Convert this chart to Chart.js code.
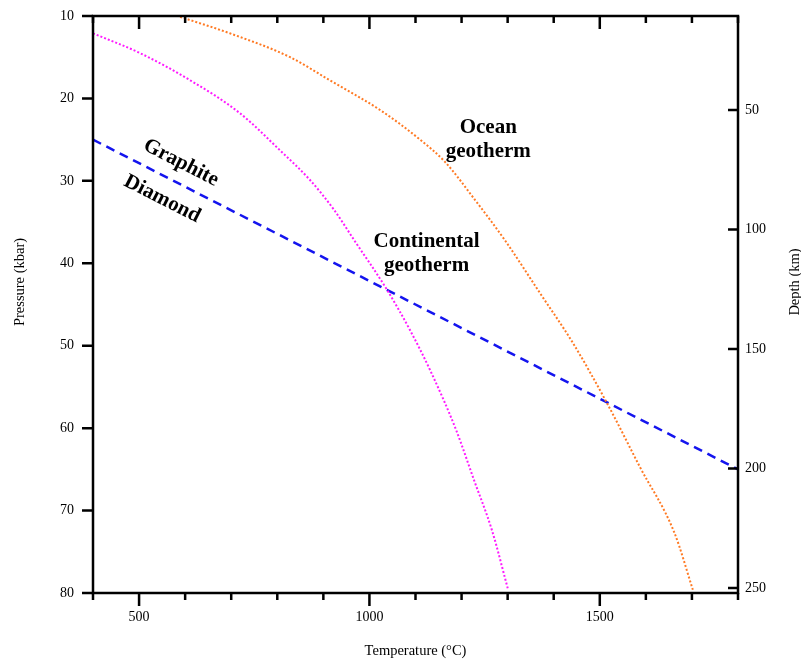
<!DOCTYPE html>
<html>
<head>
<meta charset="utf-8">
<script src="https://cdn.jsdelivr.net/npm/chart.js@4.4.1/dist/chart.umd.min.js"></script>
<style>
  html, body { margin: 0; padding: 0; background: #fff; }
  #chart { display: block; }
</style>
</head>
<body>
<canvas id="chart" width="801" height="662"></canvas>
<script>
"use strict";

// Ocean geotherm: temperature (°C) and pressure (kbar)
const oceanTemp = [589, 697, 828, 914, 1023, 1110, 1164, 1229, 1294, 1370, 1442, 1516, 1587, 1662, 1702];
const oceanPres = [10.1, 12.1, 15.0, 17.8, 21.4, 25.0, 27.7, 32.3, 37.2, 43.6, 49.7, 57.0, 64.7, 72.7, 79.6];

// Continental geotherm
const contTemp = [400, 502, 611, 719, 806, 871, 923, 967, 1038, 1088, 1132, 1188, 1227, 1266, 1301];
const contPres = [12.1, 14.5, 17.8, 21.8, 26.3, 29.9, 33.5, 37.2, 43.2, 48.1, 53.0, 60.2, 66.3, 72.4, 79.6];

// Graphite / diamond boundary
const gdTemp = [400, 1800];
const gdPres = [25, 65];

// axes
const TEMP_MIN = 400, TEMP_MAX = 1800, TEMP_MINOR_STEP = 100;
const TEMP_TICKS = [500, 1000, 1500];
const PRESSURE_TICKS = [10, 20, 30, 40, 50, 60, 70, 80];
const DEPTH_MIN = 10.7, DEPTH_MAX = 252.1;
const DEPTH_TICKS = [50, 100, 150, 200, 250];

const zip = (xs, ys) => xs.map((v, i) => ({ x: v, y: ys[i] }));

const notes = [
    { text: 'Ocean', t: 1258, p: 24.2 },
    { text: 'geotherm', t: 1258, p: 27.1 },
    { text: 'Continental', t: 1124, p: 38.0 },
    { text: 'geotherm', t: 1124, p: 40.9 }
];
const phaseNotes = [
    { text: 'Graphite', t: 591, p: 27.8 },
    { text: 'Diamond', t: 550, p: 32.2 }
];

const SERIF = '"Liberation Serif", "Times New Roman", serif';

// frame, tick marks, titles and labels
const decorations = {
    id: 'decorations',
    afterDatasetsDraw(chart) {
        const { ctx, chartArea: a, scales } = chart;
        const x = scales.x, y = scales.y, d = scales.depth;
        ctx.save();
        ctx.strokeStyle = '#000';
        ctx.lineWidth = 2.5;
        ctx.strokeRect(a.left, a.top, a.right - a.left, a.bottom - a.top);

        ctx.beginPath();
        for (let t = TEMP_MIN; t <= TEMP_MAX; t += TEMP_MINOR_STEP) {
            const px = x.getPixelForValue(t);
            const len = TEMP_TICKS.includes(t) ? 13 : 7;
            ctx.moveTo(px, a.bottom); ctx.lineTo(px, a.bottom + len);
            ctx.moveTo(px, a.top); ctx.lineTo(px, a.top + len);
        }
        PRESSURE_TICKS.forEach(p => {
            const py = y.getPixelForValue(p);
            ctx.moveTo(a.left - 11, py); ctx.lineTo(a.left, py);
        });
        DEPTH_TICKS.forEach(k => {
            const py = d.getPixelForValue(k);
            ctx.moveTo(a.right - 10, py); ctx.lineTo(a.right, py);
        });
        ctx.stroke();

        // axis titles
        ctx.fillStyle = '#000';
        ctx.font = '14.5px ' + SERIF;
        ctx.textAlign = 'center';
        ctx.textBaseline = 'alphabetic';
        ctx.fillText('Temperature (°C)', (a.left + a.right) / 2, a.bottom + 62);
        ctx.textBaseline = 'middle';
        [[20, 'Pressure (kbar)'], [795, 'Depth (km)']].forEach(([cx, txt]) => {
            ctx.save();
            ctx.translate(cx, 282);
            ctx.rotate(-Math.PI / 2);
            ctx.fillText(txt, 0, 0);
            ctx.restore();
        });

        // curve labels
        ctx.font = 'bold 21px ' + SERIF;
        ctx.textBaseline = 'alphabetic';
        notes.forEach(n => ctx.fillText(n.text, x.getPixelForValue(n.t), y.getPixelForValue(n.p)));

        const ang = Math.atan2(y.getPixelForValue(gdPres[1]) - y.getPixelForValue(gdPres[0]),
                               x.getPixelForValue(gdTemp[1]) - x.getPixelForValue(gdTemp[0]));
        ctx.textBaseline = 'middle';
        phaseNotes.forEach(n => {
            ctx.save();
            ctx.translate(x.getPixelForValue(n.t), y.getPixelForValue(n.p));
            ctx.rotate(ang);
            ctx.fillText(n.text, 0, 0);
            ctx.restore();
        });
        ctx.restore();
    }
};

const tickFont = { family: SERIF, size: 14 };
const plain = v => String(v);

// fixed axis box sizes so the plot area sits where it does in the figure
const fixWidth = w => s => { s.width = w; s.paddingTop = 0; s.paddingBottom = 0; };

new Chart(document.getElementById('chart'), {
    type: 'scatter',
    data: {
        datasets: [{
            data: zip(oceanTemp, oceanPres),
            showLine: true,
            borderColor: '#FF7A24',
            borderWidth: 2,
            borderDash: [2, 2],
            cubicInterpolationMode: 'monotone',
            pointRadius: 0
        }, {
            data: zip(contTemp, contPres),
            showLine: true,
            borderColor: '#FF1AFF',
            borderWidth: 2,
            borderDash: [2, 2],
            cubicInterpolationMode: 'monotone',
            pointRadius: 0
        }, {
            data: zip(gdTemp, gdPres),
            showLine: true,
            borderColor: '#1414EE',
            borderWidth: 2.5,
            borderDash: [9, 6],
            pointRadius: 0
        }]
    },
    options: {
        responsive: false,
        animation: false,
        layout: { padding: { top: 16, left: 0, right: 0, bottom: 0 } },
        plugins: { legend: { display: false }, tooltip: { enabled: false } },
        scales: {
            x: {
                type: 'linear', position: 'bottom', min: TEMP_MIN, max: TEMP_MAX,
                grid: { display: false, drawTicks: false },
                border: { display: false },
                ticks: { font: tickFont, color: '#000', padding: 16, maxRotation: 0, callback: plain },
                afterBuildTicks: s => { s.ticks = TEMP_TICKS.map(v => ({ value: v })); },
                afterFit: s => { s.height = 69; s.paddingLeft = 0; s.paddingRight = 0; }
            },
            y: {
                type: 'linear', position: 'left', reverse: true, min: 10, max: 80,
                grid: { display: false, drawTicks: false },
                border: { display: false },
                ticks: { font: tickFont, color: '#000', padding: 19, callback: plain },
                afterBuildTicks: s => { s.ticks = PRESSURE_TICKS.map(v => ({ value: v })); },
                afterFit: fixWidth(93)
            },
            depth: {
                type: 'linear', position: 'right', reverse: true, min: DEPTH_MIN, max: DEPTH_MAX,
                grid: { display: false, drawTicks: false },
                border: { display: false },
                ticks: { font: tickFont, color: '#000', padding: 7, callback: plain },
                afterBuildTicks: s => { s.ticks = DEPTH_TICKS.map(v => ({ value: v })); },
                afterFit: fixWidth(63)
            }
        }
    },
    plugins: [decorations]
});
</script>
</body>
</html>
